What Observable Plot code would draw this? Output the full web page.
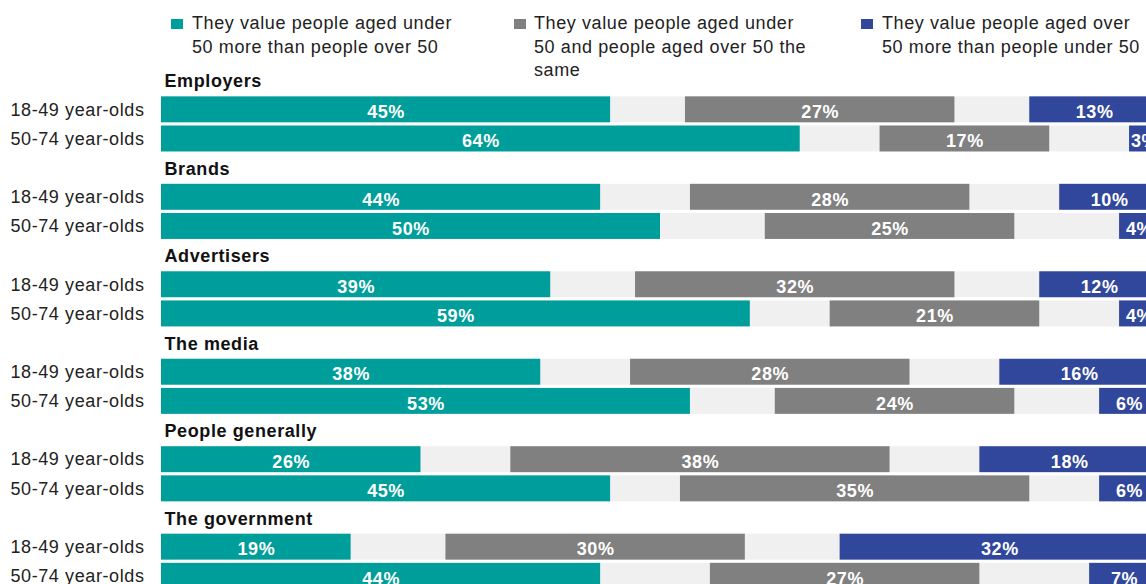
<!DOCTYPE html>
<html>
<head>
<meta charset="utf-8">
<script src="https://cdn.jsdelivr.net/npm/d3@7"></script>
<script src="https://cdn.jsdelivr.net/npm/@observablehq/plot@0.6"></script>
<style>
  html, body { margin: 0; padding: 0; overflow: hidden; background: #fff; width: 1146px; height: 584px; }
  #wrap { position: relative; width: 1146px; height: 584px; overflow: hidden; }
  #chart { position: absolute; left: 0; top: 0; width: 1160px; }
  #chart svg { max-width: none !important; }
  .legend { position: absolute; left: 0; top: 0; width: 1146px; height: 84px;
            font-family: "Liberation Sans", Arial, sans-serif; font-size: 18px; letter-spacing: 0.6px;
            color: #222; line-height: 23.5px; z-index: 2; }
  .item { position: absolute; top: 12px; white-space: nowrap; }
  .sw { position: absolute; top: 19px; width: 12px; height: 10px; }
</style>
</head>
<body>
<div id="wrap">
  <div id="chart"></div>
  <div class="legend" id="legend"></div>
</div>
<script>
// ---- data ----
const groups = ["Employers", "Brands", "Advertisers", "The media", "People generally", "The government"];
const ages = ["18-49 year-olds", "50-74 year-olds"];
const seriesNames = [
  "They value people aged under 50 more than people over 50",
  "They value people aged under 50 and people aged over 50 the same",
  "They value people aged over 50 more than people under 50"
];
const legendLines = [
  ["They value people aged under", "50 more than people over 50"],
  ["They value people aged under", "50 and people aged over 50 the", "same"],
  ["They value people aged over", "50 more than people under 50"]
];
// values in order: group × age (18-49, 50-74)
const valueUnder = [45, 64, 44, 50, 39, 59, 38, 53, 26, 45, 19, 44];
const valueSame  = [27, 17, 28, 25, 32, 21, 28, 24, 38, 35, 30, 27];
const valueOver  = [13, 3, 10, 4, 12, 4, 16, 6, 18, 6, 32, 7];

const colors = ["#009e9a", "#808080", "#30479b"];

// ---- build tables ----
const rowKeys = [];
const titleRows = [];
const barRows = [];
const segs = [];
groups.forEach((g, gi) => {
  const tk = g + "|title";
  rowKeys.push(tk);
  titleRows.push({row: tk, label: g});
  ages.forEach((a, ai) => {
    const k = g + "|" + a;
    rowKeys.push(k);
    barRows.push({row: k, label: a});
    const idx = gi * 2 + ai;
    const u = valueUnder[idx], s = valueSame[idx], o = valueOver[idx];
    const gap = (100 - u - s - o) / 2;
    segs.push({row: k, series: seriesNames[0], x1: 0, x2: u, v: u});
    segs.push({row: k, series: seriesNames[1], x1: u + gap, x2: u + gap + s, v: s});
    segs.push({row: k, series: seriesNames[2], x1: 100 - o, x2: 100, v: o});
  });
});

const chart = Plot.plot({
  width: 1160,
  height: 600,
  marginTop: 64,
  marginBottom: 8,
  marginLeft: 161,
  marginRight: 1,
  x: {domain: [0, 100], axis: null},
  y: {domain: rowKeys, padding: 0.11, axis: null, round: false},
  color: {domain: seriesNames, range: colors},
  style: {fontFamily: "'Liberation Sans', Arial, sans-serif", fontSize: "18px", letterSpacing: "0.6px", background: "transparent", maxWidth: "none"},
  marks: [
    Plot.barX(barRows, {y: "row", x1: 0, x2: 100, fill: "#f0f0f0"}),
    Plot.barX(segs, {y: "row", x1: "x1", x2: "x2", fill: "series"}),
    Plot.text(segs, {y: "row", x: d => (d.x1 + d.x2) / 2, text: d => d.v + "%",
                     fill: "white", fontWeight: "bold", fontSize: 18, dy: 2.5}),
    Plot.text(titleRows, {y: "row", x: 0, text: "label", textAnchor: "start",
                          fontWeight: "bold", fill: "#111", dx: 3, dy: 1, fontSize: 18}),
    Plot.text(barRows, {y: "row", x: 0, text: "label", textAnchor: "end",
                        fill: "#222", dx: -17, dy: 0, fontSize: 18})
  ]
});
document.getElementById("chart").appendChild(chart);

// ---- legend ----
const legend = document.getElementById("legend");
const swLeft = [171, 514, 861];
const txtLeft = [192, 534, 882];
seriesNames.forEach((s, i) => {
  const sw = document.createElement("div");
  sw.className = "sw";
  sw.style.left = swLeft[i] + "px";
  sw.style.background = colors[i];
  legend.appendChild(sw);
  const t = document.createElement("div");
  t.className = "item";
  t.style.left = txtLeft[i] + "px";
  t.innerHTML = legendLines[i].join("<br>");
  legend.appendChild(t);
});
</script>
</body>
</html>
